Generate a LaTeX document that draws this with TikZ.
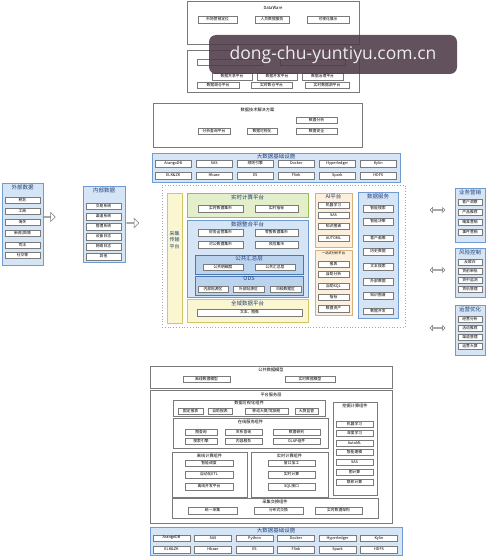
\documentclass[tikz,border=0pt]{standalone}
\usepackage{fontspec}
\setmainfont{Noto Sans CJK SC}
\newfontfamily\wmfont{Open Sans}
\usetikzlibrary{positioning,shapes.arrows}
\definecolor{bfill}{HTML}{D6E5F5}
\definecolor{bline}{HTML}{6F9BD1}
\definecolor{dfill}{HTML}{BCD3EE}
\definecolor{dline}{HTML}{4A78B5}
\definecolor{gfill}{HTML}{E3EFCB}
\definecolor{gline}{HTML}{96BE55}
\definecolor{yfill}{HTML}{FBF6D2}
\definecolor{yline}{HTML}{D6C660}
\definecolor{ofill}{HTML}{FCEFDC}
\definecolor{oline}{HTML}{D8B07A}
\definecolor{boxline}{HTML}{7A7A7A}
\definecolor{ttlblue}{HTML}{1F3F7A}
\definecolor{wmark}{HTML}{4E3A48}
\tikzset{
  itm/.style={draw=boxline, fill=white, line width=0.45pt, inner sep=0pt, minimum height=6.5pt, font=\fontsize{3.8}{4}\selectfont},
  wbox/.style={draw=boxline, fill=white, line width=0.6pt, inner sep=0pt},
  bbox/.style={draw=bline, fill=bfill, line width=0.7pt, inner sep=0pt},
  dbox/.style={draw=dline, fill=dfill, line width=0.7pt, inner sep=0pt},
  gbox/.style={draw=gline, fill=gfill, line width=0.7pt, inner sep=0pt},
  ybox/.style={draw=yline, fill=yfill, line width=0.7pt, inner sep=0pt},
  obox/.style={draw=oline, fill=ofill, line width=0.7pt, inner sep=0pt},
  dotbox/.style={draw=gray!70, dotted, line width=0.8pt, inner sep=0pt},
  ttl/.style={inner sep=0pt, font=\fontsize{4.2}{5}\selectfont},
  btl/.style={inner sep=0pt, font=\fontsize{5.5}{6}\selectfont, text=ttlblue},
  sarr/.style={single arrow, draw=boxline, fill=white, line width=0.5pt, inner sep=0pt, minimum height=12pt, minimum width=9pt, single arrow head extend=3.5pt},
  darr/.style={double arrow, draw=boxline, fill=white, line width=0.5pt, inner sep=0pt, minimum height=15pt, minimum width=5pt, double arrow head extend=2.2pt},
  wm/.style={fill=wmark, fill opacity=0.88, text opacity=1, text=white!92!black, rounded corners=7pt, minimum width=248pt, minimum height=39pt, inner sep=0pt, font=\wmfont\fontsize{17.5}{20}\selectfont}
}
\newcommand\ibox[5]{\node[itm,minimum width={((#3)-(#2))*1pt}] (#1) at ({((#2)+(#3))/2},#4) {#5};}
\newcommand\panel[6]{\node[#2,minimum width={((#5)-(#3))*1pt},minimum height={((#6)-(#4))*1pt}] (#1) at ({((#3)+(#5))/2},{((#4)+(#6))/2}) {};}

\begin{document}
\begin{tikzpicture}[x=1pt,y=-1pt]
\useasboundingbox (0,0) rectangle (491,556);
\fill[white] (0,0) rectangle (491,556);

\panel{app}{wbox}{187}{1}{359}{44}
\node[ttl,below=6pt of app.north] (appt) {DataWare};
\ibox{app1}{198}{237}{19.5}{市场营销定位}
\ibox{app2}{255}{289}{19.5}{人员数据服务}
\ibox{app3}{307}{349}{19.5}{可视化展示}

\panel{plat}{wbox}{187}{50}{359}{92}
\ibox{plat1}{197}{262}{62}{}
\ibox{plat2}{280}{345}{62}{}
\ibox{plat3}{212}{252}{76.5}{数据共享平台}
\ibox{plat4}{257}{297}{76.5}{数据开发平台}
\ibox{plat5}{302}{343}{76.5}{数据治理平台}
\ibox{plat6}{197}{239}{85}{数据湖仓平台}
\ibox{plat7}{251}{292}{85}{实时数仓平台}
\ibox{plat8}{305}{349}{85}{实时数据湖平台}

\panel{sol}{wbox}{153}{103}{362}{147}
\node[ttl,below=5pt of sol.north] (solt) {数据技术解决方案};
\ibox{sol1}{198}{230}{131}{分析查询平台}
\ibox{sol2}{247}{277}{131}{数据可视化}
\ibox{sol3}{296}{337}{120}{数据分析}
\ibox{sol4}{296}{337}{131}{数据安全}

\panel{inf}{bbox}{152}{153}{400}{182}
\node[btl,below=1pt of inf.north] (inft) {大数据基础设施};
\foreach \t [count=\i] in {ArangoDB,SAS,规则引擎,Docker,Hyperledger,Kylin}
  \ibox{infa\i}{155+41*(\i-1)}{191.5+41*(\i-1)}{163.5}{\t};
\foreach \t [count=\i] in {ELK\&ZK,Hbase,ES,Flink,Spark,HDFS}
  \ibox{infb\i}{155+41*(\i-1)}{191.5+41*(\i-1)}{175.5}{\t};

\panel{core}{dotbox}{162}{185}{405}{327}

\panel{cj}{ybox}{167}{193}{182}{323}
\node[btl,align=center,font=\fontsize{5}{6.5}\selectfont] (cjt) at (174.5,240) {采集\\传输\\平台};

\panel{rt}{gbox}{187}{193}{308}{217}
\node[btl,below=2pt of rt.north] (rtt) {实时计算平台};
\ibox{rt1}{198}{243}{208.5}{实时数据集市}
\ibox{rt2}{255}{298}{208.5}{实时指标}

\panel{zh}{bbox}{187}{220}{308}{297}
\node[btl,below=2pt of zh.north] (zht) {数据整合平台};
\ibox{zh1}{198}{243}{232.5}{财务运营集市}
\ibox{zh2}{255}{298}{232.5}{零售数据集市}
\ibox{zh3}{198}{243}{244.5}{对公数据集市}
\ibox{zh4}{255}{298}{244.5}{风险集市}
\panel{gg}{dbox}{195}{255}{303}{274}
\node[btl,below=1pt of gg.north] (ggt) {公共汇总层};
\ibox{gg1}{203}{243}{267}{公共明细层}
\ibox{gg2}{255}{295}{267}{公共汇总层}
\panel{ods}{dbox}{195}{276}{303}{295}
\node[btl,below=1pt of ods.north] (odst) {ODS};
\ibox{ods1}{198}{228}{289}{内部贴源区}
\ibox{ods2}{233}{264}{289}{外部贴源区}
\ibox{ods3}{270}{301}{289}{归档数据区}

\panel{qy}{ybox}{187}{299}{308}{322}
\node[btl,below=2pt of qy.north] (qyt) {全域数据平台};
\ibox{qy1}{197}{302}{312.5}{文本、图像}

\panel{ai}{obox}{315}{193}{352}{247}
\node[btl,below=1.5pt of ai.north] (ait) {AI平台};
\foreach \y/\t [count=\i] in {205/机器学习,215/SAS,226/知识图谱,238/AUTOML}
  \ibox{ai\i}{318}{349}{\y}{\t};
\panel{yz}{obox}{315}{250}{352}{315}
\node[ttl,below=2pt of yz.north,font=\fontsize{3.3}{4}\selectfont] (yzt) {一站式分析平台};
\foreach \y/\t [count=\i] in {264/报表,274/自助分析,286/自助SQL,297/指标,308.5/数据资产}
  \ibox{yz\i}{318}{349}{\y}{\t};

\panel{fw}{bbox}{358}{192}{398}{318}
\node[btl,below=2pt of fw.north] (fwt) {数据服务};
\foreach \y/\t [count=\i] in {208.5/智能搜索,221.5/智能决策,238/客户画像,251.5/历史数据,266.5/文本搜索,281.5/外部数据,295.5/知识图谱,311/数据开发}
  \ibox{fw\i}{363}{393}{\y}{\t};

\panel{ext}{bbox}{2}{183}{43}{265}
\node[btl,below=2pt of ext.north] (extt) {外部数据};
\foreach \y/\t [count=\i] in {200/税务,211/工商,222/海关,233/{新闻/舆情},245/司法,255/社交等}
  \ibox{ext\i}{5}{40}{\y}{\t};
\panel{int}{bbox}{83}{186}{125}{262}
\node[btl,below=2pt of int.north] (intt) {内部数据};
\foreach \y/\t [count=\i] in {206/交易系统,216.5/渠道系统,226.5/管理系统,236.5/设备日志,246.5/网络日志,256.5/其他}
  \ibox{int\i}{86}{121}{\y}{\t};

\node[sarr] (ar1) at (49,217) {};
\node[sarr] (ar2) at (132.5,223) {};
\node[darr] (da1) at (437.5,210) {};
\node[darr] (da2) at (437.5,270) {};
\node[darr] (da3) at (437.5,328) {};

\panel{yx}{bbox}{455}{188}{485}{242}
\node[btl,below=2pt of yx.north] (yxt) {业务营销};
\foreach \y/\t [count=\i] in {202/客户洞察,212/产品推荐,222/精准营销,232/事件营销}
  \ibox{yx\i}{458}{482}{\y}{\t};
\panel{fk}{bbox}{455}{248}{485}{297}
\node[btl,below=2pt of fk.north] (fkt) {风险控制};
\foreach \y/\t [count=\i] in {262/反欺诈,271/贷前审批,280/贷中监测,289/贷后管理}
  \ibox{fk\i}{458}{482}{\y}{\t};
\panel{yy}{bbox}{455}{305}{485}{355}
\node[btl,below=2pt of yy.north] (yyt) {运营优化};
\foreach \y/\t [count=\i] in {319/经营分析,328/活动推荐,337/渠道管理,346/运营大屏}
  \ibox{yy\i}{458}{482}{\y}{\t};

\panel{mx}{wbox}{150}{366}{392}{388}
\node[ttl,below=2pt of mx.north] (mxt) {公共数据模型};
\ibox{mx1}{183}{230}{379}{离线数据模型}
\ibox{mx2}{285}{335}{379}{实时数据模型}

\panel{fwc}{wbox}{150}{390}{392}{523}
\node[ttl,below=3pt of fwc.north] (fwct) {平台服务层};
\panel{ksh}{wbox}{173}{400}{325}{416}
\node[ttl,below=1pt of ksh.north] (ksht) {数据可视化组件};
\ibox{ksh1}{178}{203}{411}{固定报表}
\ibox{ksh2}{208}{232}{411}{自助报表}
\ibox{ksh3}{245}{288}{411}{移动大屏/驾驶舱}
\ibox{ksh4}{295}{318}{411}{大屏监管}
\panel{zx}{wbox}{173}{418}{328}{448}
\node[ttl,below=2pt of zx.north] (zxt) {在线服务组件};
\ibox{zx1}{185}{217}{432}{图查询}
\ibox{zx2}{225}{262}{432}{关系查询}
\ibox{zx3}{273}{320}{432}{数据研判}
\ibox{zx4}{185}{217}{441}{搜索引擎}
\ibox{zx5}{225}{262}{441}{内容服务}
\ibox{zx6}{273}{320}{441}{OLAP组件}
\panel{lx}{wbox}{172}{452}{247}{497}
\node[ttl,below=2pt of lx.north] (lxt) {离线计算组件};
\ibox{lx1}{185}{233}{463}{智能调度}
\ibox{lx2}{185}{233}{474.5}{自动化ETL}
\ibox{lx3}{185}{233}{486.5}{离线开发平台}
\panel{ss}{wbox}{251}{452}{328}{497}
\node[ttl,below=2pt of ss.north] (sst) {实时计算组件};
\ibox{ss1}{268}{315}{463}{窗口加工}
\ibox{ss2}{268}{315}{474.5}{实时计算}
\ibox{ss3}{268}{315}{486.5}{SQL接口}
\panel{wj}{wbox}{333}{402}{377}{495}
\node[ttl,below=2pt of wj.north] (wjt) {挖掘计算组件};
\foreach \y/\t [count=\i] in {424/机器学习,433/深度学习,443/AutoML,452/智能建模,462/SAS,472/图计算,482/联邦计算}
  \ibox{wj\i}{336}{373}{\y}{\t};
\panel{jh}{wbox}{172}{498}{378}{518}
\node[ttl,below=2pt of jh.north] (jht) {采集交换组件};
\ibox{jh1}{188}{237}{510.5}{统一采集}
\ibox{jh2}{254}{303}{510.5}{分布式交换}
\ibox{jh3}{315}{362}{510.5}{实时数据架构}

\panel{infd}{bbox}{150}{527}{402}{555}
\node[btl,below=1pt of infd.north] (infdt) {大数据基础设施};
\foreach \t [count=\i] in {ArangoDB,SAS,Python,Docker,Hyperledger,Kylin}
  \ibox{infc\i}{153+41.5*(\i-1)}{190+41.5*(\i-1)}{538}{\t};
\foreach \t [count=\i] in {ELK\&ZK,Hbase,ES,Flink,Spark,HDFS}
  \ibox{infe\i}{153+41.5*(\i-1)}{190+41.5*(\i-1)}{549.5}{\t};

\node[wm] (wm) at (333,54.5) {dong-chu-yuntiyu.com.cn};
\end{tikzpicture}
\end{document}
